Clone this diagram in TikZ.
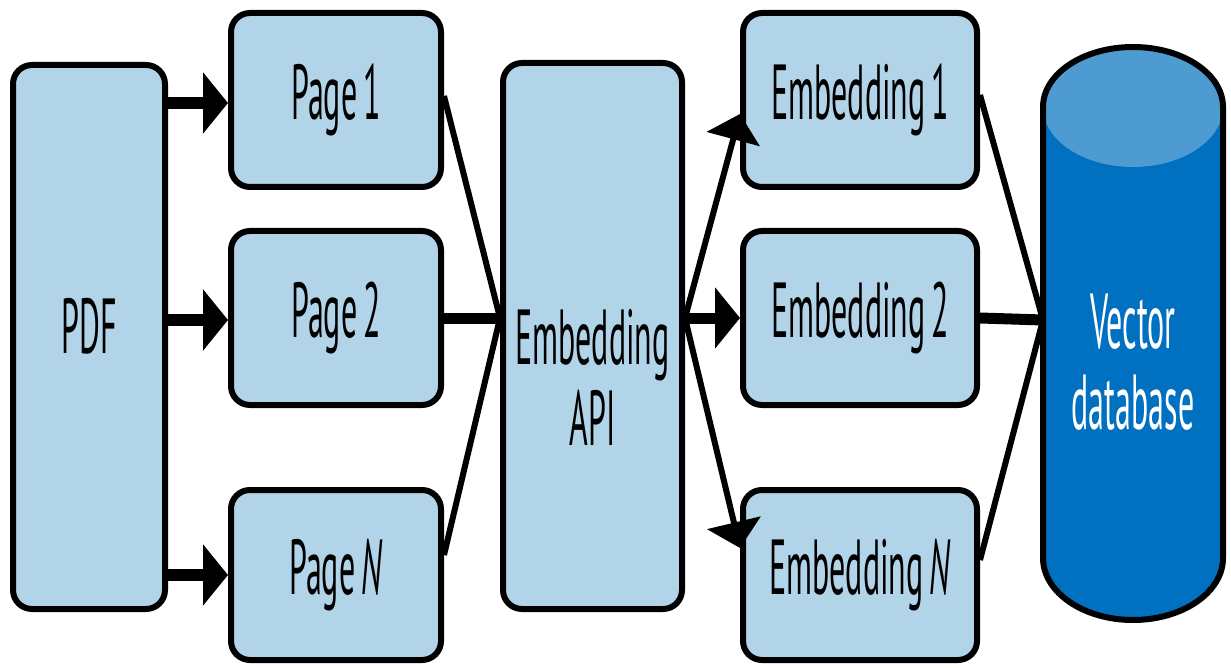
\documentclass[tikz,border=0pt]{standalone}
\usepackage{fontspec}
\setmainfont[FakeStretch=0.41, WordSpace=0.7]{PT Sans}
\usetikzlibrary{arrows.meta,calc}
\definecolor{boxfill}{HTML}{B2D4E9}
\definecolor{dbbody}{HTML}{0070C0}
\definecolor{dbtop}{HTML}{4D9BD0}
\tikzset{
  box/.style={draw=black, line width=6pt, fill=boxfill, rounded corners=19pt,
    inner sep=0pt, font=\fontsize{78}{86}\selectfont, align=center},
  lbl/.style={inner sep=0pt, font=\fontsize{78}{81}\selectfont, align=center},
  feed/.style={line width=12pt, -{Triangle[length=25pt,width=60pt]}},
  fan/.style={line width=6pt, -{Triangle[length=26pt,width=54pt]}},
  link/.style={line width=6pt},
  trunk/.style={line width=11pt},
}
\begin{document}
\begin{tikzpicture}[x=1pt,y=-1pt]
\useasboundingbox (0,0) rectangle (1231,668);

% source document and its pages
\node[box, minimum width=152pt, minimum height=544pt] (pdf) at (89,337) {};
\node[lbl] (pdftxt) at (89,326) {PDF};
\node[box, minimum width=210pt, minimum height=174pt] (p1) at (336,100) {Page 1};
\node[box, minimum width=210pt, minimum height=174pt] (p2) at (336,318) {Page 2};
\node[box, minimum width=210pt, minimum height=170pt] (pN) at (336,575) {Page \textit{N}};

% embedding service
\node[box, minimum width=179pt, minimum height=546pt] (api) at (592.5,336) {};
\node[lbl] (apitxt) at (592.5,377) {Embedding\\API};

% resulting embeddings
\node[box, minimum width=234pt, minimum height=174pt] (e1) at (860,100) {Embedding 1};
\node[box, minimum width=234pt, minimum height=174pt] (e2) at (860,318) {Embedding 2};
\node[box, minimum width=234pt, minimum height=170pt] (eN) at (860,575) {Embedding \textit{N}};

% vector database cylinder
\fill[dbbody] (1043,107) -- (1043,558) arc[start angle=180, end angle=360, x radius=90, y radius=-62]
  -- (1223,107) arc[start angle=0, end angle=180, x radius=90, y radius=-60] -- cycle;
\fill[dbtop] (1133,107) ellipse[x radius=90, y radius=60];
\draw[line width=6pt] (1043,107) -- (1043,558) arc[start angle=180, end angle=360, x radius=90, y radius=-62]
  -- (1223,107) arc[start angle=0, end angle=180, x radius=90, y radius=-60] -- cycle;
\node[lbl, text=white] (db) at (1133,362) {Vector\\database};
\coordinate (dbin) at (1043,320);

% split into pages
\draw[feed] (pdf.east |- p1.west) ++(0,3) -- ($(p1.west)+(0,3)$);
\draw[feed] (pdf.east |- p2.west) ++(0,2) -- ($(p2.west)+(0,2)$);
\draw[feed] (pdf.east |- pN.west) -- (pN.west);

% pages into the API
\coordinate (apiin) at (api.west |- p2.east);
\draw[link] ($(p1.east)+(0,-4)$) -- (apiin);
\draw[trunk] (p2.east) -- (apiin);
\draw[link] ($(pN.east)+(0,-20)$) -- (apiin);

% API out to embeddings
\coordinate (apiout) at (api.east |- p2.east);
\draw[fan] (apiout) -- ($(e1.west)+(0,14)$);
\draw[trunk, -{Triangle[length=25pt,width=60pt]}] (apiout) -- (e2.west);
\draw[fan] (apiout) -- ($(eN.west)+(0,-27)$);

% embeddings into the database
\draw[link] ($(e1.east)+(0,-5)$) -- (dbin);
\draw[trunk] (e2.east) -- (dbin);
\draw[link] ($(eN.east)+(0,-15)$) -- (dbin);
\end{tikzpicture}
\end{document}
